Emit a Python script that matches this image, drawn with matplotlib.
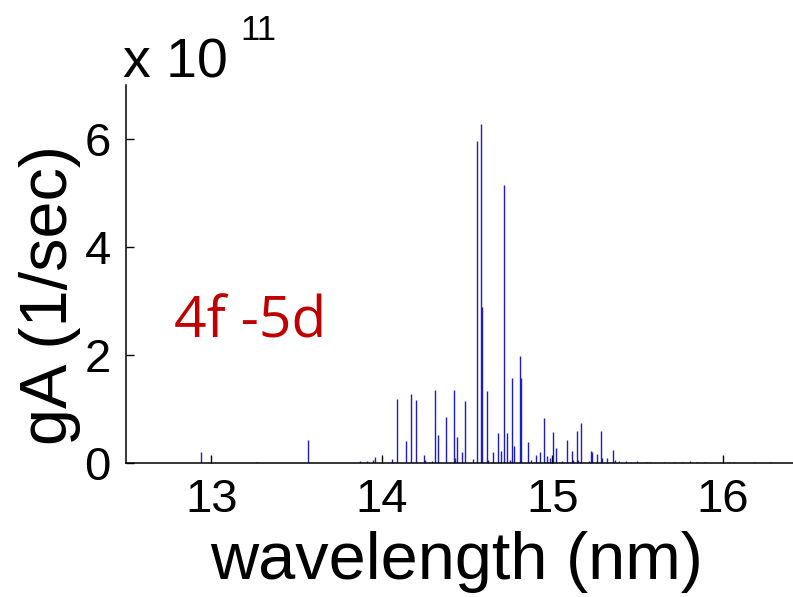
import matplotlib
matplotlib.use("Agg")
import matplotlib.pyplot as plt

# line positions (nm) and strengths (x 1e11 1/sec)
wavelength = [12.942, 13.267, 13.569, 13.875, 13.912, 13.947, 13.963, 14.060,
              14.089, 14.144, 14.174, 14.201, 14.246, 14.255, 14.294, 14.312,
              14.330, 14.376, 14.421, 14.431, 14.440, 14.468, 14.489, 14.534,
              14.561, 14.581, 14.587, 14.616, 14.626, 14.655, 14.680, 14.700,
              14.717, 14.737, 14.753, 14.766, 14.774, 14.809, 14.817, 14.858,
              14.877, 14.902, 14.930, 14.950, 14.971, 14.988, 15.004, 15.023,
              15.058, 15.089, 15.115, 15.123, 15.144, 15.152, 15.171, 15.216,
              15.228, 15.236, 15.263, 15.283, 15.292, 15.322, 15.357, 15.370,
              15.392, 15.435, 15.464, 15.495, 15.542, 15.556, 15.571, 15.653,
              15.713, 15.760, 15.805, 15.850, 15.893, 16.039, 16.068, 16.181,
              16.275]
gA = [0.20, 0.02, 0.43, 0.04, 0.04, 0.06, 0.11, 0.07,
      1.19, 0.40, 1.28, 1.16, 0.14, 0.05, 0.03, 1.36,
      0.51, 0.85, 1.36, 0.10, 0.49, 0.20, 1.15, 0.08,
      5.97, 6.27, 2.89, 1.34, 0.05, 0.20, 0.55, 0.23,
      5.15, 0.55, 0.05, 1.57, 0.31, 1.98, 1.57, 0.38,
      0.05, 0.14, 0.20, 0.84, 0.13, 0.10, 0.57, 0.28,
      0.04, 0.43, 0.22, 0.05, 0.60, 0.06, 0.75, 0.03,
      0.22, 0.20, 0.17, 0.60, 0.10, 0.10, 0.25, 0.05,
      0.03, 0.03, 0.02, 0.04, 0.02, 0.02, 0.02, 0.02,
      0.02, 0.02, 0.03, 0.02, 0.02, 0.02, 0.02, 0.02,
      0.02]

xticks = [13, 14, 15, 16]
yticks = [0, 2, 4, 6]

W, H = 793, 597
fig = plt.figure(figsize=(W / 100, H / 100), dpi=100, facecolor="white")
# axes box in pixels: left 126, right ~808 (cropped), top 85, bottom 463
ax = fig.add_axes([126 / W, 1 - 463 / H, 682 / W, 378 / H])

ax.vlines(wavelength, 0, gA, color="#1c1cc8", linewidth=1.0)

ax.set_xlim(12.5, 16.5)
ax.set_ylim(0, 7)
ax.set_xticks(xticks)
ax.set_yticks(yticks)

for side in ["top", "right"]:
    ax.spines[side].set_visible(False)
for side in ["left", "bottom"]:
    ax.spines[side].set_linewidth(1.1)

font = "Liberation Sans"
ax.tick_params(direction="in", length=6, width=1, labelsize=34, pad=11)
for lab in ax.get_xticklabels() + ax.get_yticklabels():
    lab.set_fontfamily(font)

fig.text(457 / W, 1 - 562 / H, "wavelength (nm)", ha="center", va="center",
         fontsize=48, family=font)
fig.text(50 / W, 1 - 295 / H, "gA (1/sec)", ha="center", va="center",
         rotation=90, fontsize=48, family=font)

# exponent label in the MATLAB style
fig.text(123 / W, 1 - 77 / H, "x 10", ha="left", va="baseline",
         fontsize=40, family=font)
fig.text(240 / W, 1 - 40 / H, "11", ha="left", va="baseline",
         fontsize=25, family=font)

fig.text(174 / W, 1 - 338 / H, "4f -5d", ha="left", va="baseline",
         fontsize=41, family="Open Sans", color="#c00000")

fig.savefig("out.png", dpi=100)
